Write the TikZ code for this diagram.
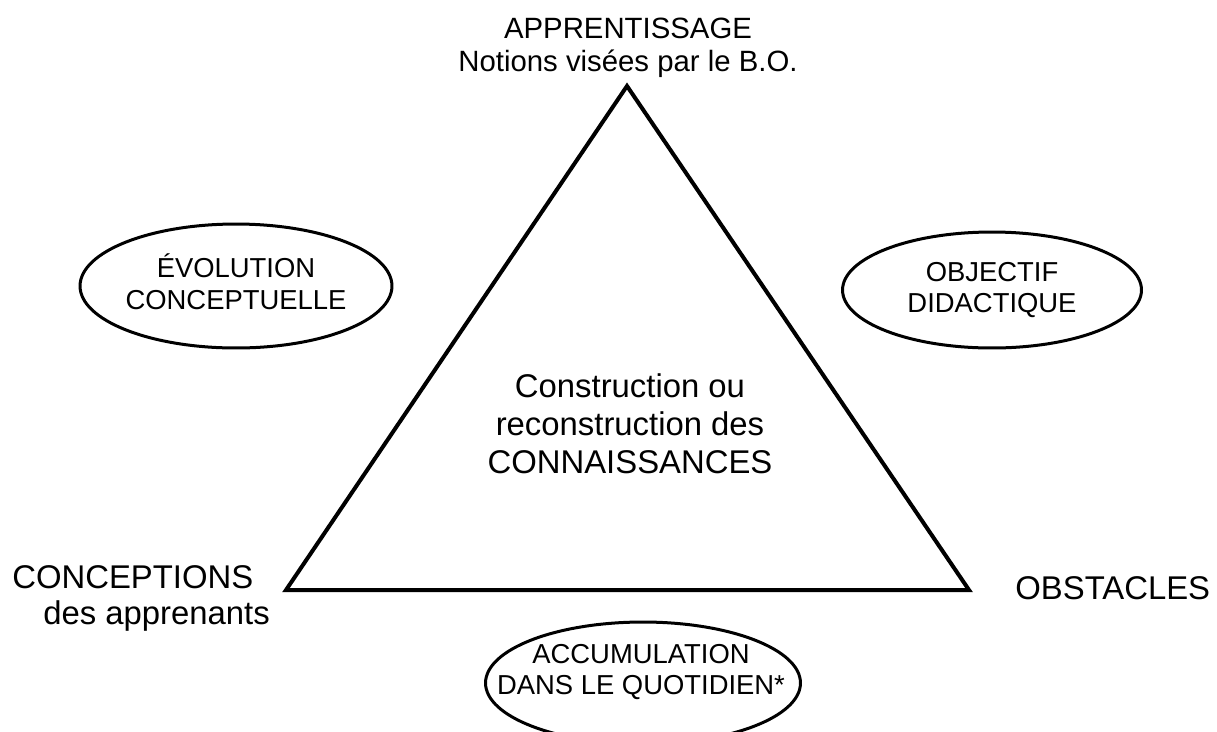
\documentclass[tikz,border=0pt]{standalone}
\usepackage{fontspec}
\setmainfont{Liberation Sans}
\usetikzlibrary{shapes.geometric}
\begin{document}
\begin{tikzpicture}[x=0.02cm, y=-0.02cm,
  bubble/.style={draw, ellipse, line width=0.06cm, inner sep=0pt},
  bubbletext/.style={inner sep=0pt, align=center, font=\fontsize{15.6}{18.2}\selectfont},
  bigtext/.style={inner sep=0pt, align=center, font=\fontsize{18.7}{21.6}\selectfont},
  toptext/.style={inner sep=0pt, align=center, font=\fontsize{16.7}{18.8}\selectfont}]
\useasboundingbox (0,0) rectangle (1217,731);
% triangle
\coordinate (apex) at (627,86);
\coordinate (bl) at (286,590);
\coordinate (br) at (969,590);
\draw [line width=0.08cm] (apex) -- (bl) -- (br) -- cycle;
% vertex labels
\node [toptext] (appr) at (628,48) {APPRENTISSAGE\\Notions visées par le B.O.};
\node [bigtext, anchor=base west] (conc) at (12,588) {CONCEPTIONS};
\node [bigtext, anchor=base west] (concsub) at (43,624) {des apprenants};
\node [bigtext, anchor=base west] (obst) at (1015,599) {OBSTACLES};
\node [bigtext] (connais) at (630,424) {Construction ou\\reconstruction des\\CONNAISSANCES};
% ellipses
\node [bubble, minimum width=6.24cm, minimum height=2.48cm] (evol) at (236,286) {};
\node [bubbletext] (evoltext) at (236,282) {ÉVOLUTION\\CONCEPTUELLE};
\node [bubble, minimum width=5.98cm, minimum height=2.32cm] (objd) at (992,290) {};
\node [bubbletext] (objdtext) at (992,290) {OBJECTIF\\DIDACTIQUE};
\node [bubble, minimum width=6.3cm, minimum height=2.44cm] (accu) at (643,683) {};
\node [bubbletext] (accutext) at (641,672) {ACCUMULATION\\DANS LE QUOTIDIEN*};
\end{tikzpicture}
\end{document}
